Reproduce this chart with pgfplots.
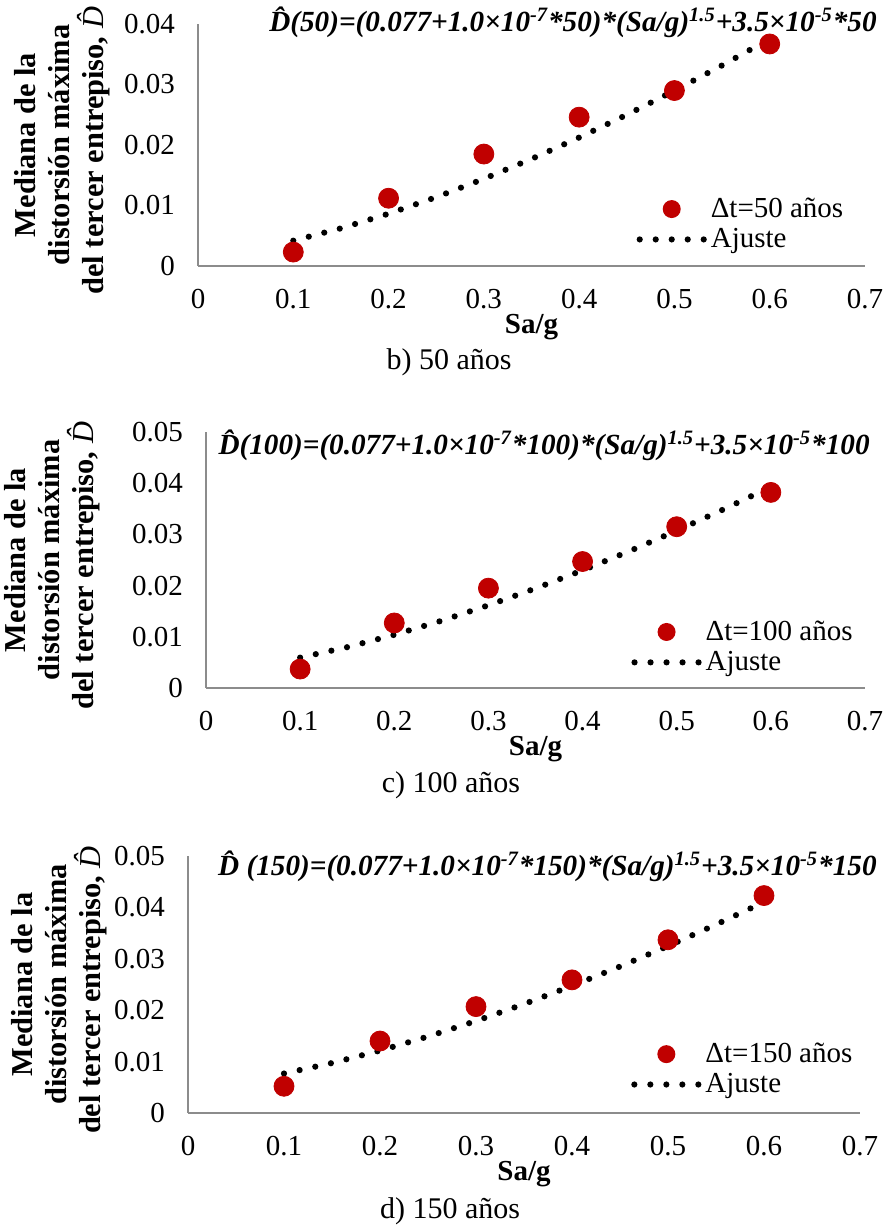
\documentclass[border=0pt]{standalone}
\usepackage{fontspec}
\setmainfont{Liberation Serif}
\usepackage{pgfplots}
\pgfplotsset{compat=1.18}
\definecolor{ptred}{HTML}{C00000}
\definecolor{axgray}{HTML}{8C8C8C}

\pgfplotsset{
  panel/.style={
    scale only axis, anchor=south west,
    xmin=0, xmax=0.7, ymin=0,
    axis x line*=bottom, axis y line*=left,
    axis line style={axgray, line width=1pt},
    tick style={draw=none},
    scaled y ticks=false, scaled x ticks=false,
    xtick={0,0.1,0.2,0.3,0.4,0.5,0.6,0.7},
    xticklabels={0,0.1,0.2,0.3,0.4,0.5,0.6,0.7},
    /pgf/number format/assume math mode=true,
    tick label style={font=\fontsize{14.5}{14.5}\selectfont},
    xticklabel style={yshift=-8pt},
    yticklabel style={xshift=-8pt},
    clip=false,
    reverse legend,
    legend cell align=left,
    legend style={draw=none, fill=none, inner sep=0pt, anchor=north west,
      font=\fontsize{14.5}{14.5}\selectfont, row sep=0pt},
    xlabel={\textbf{Sa/g}},
    x label style={at={(axis description cs:0.5,0)}, anchor=base, yshift=-34pt,
      font=\fontsize{14.5}{14.5}\selectfont},
    ylabel={Mediana de la\\distorsión máxima\\del tercer entrepiso, \textnormal{\textit{\^{D}}}},
    y label style={anchor=center, align=center, font=\fontsize{15.2}{17}\selectfont\bfseries},
  },
  fitline/.style={black, line width=3.1pt, line cap=round, dash pattern=on 0pt off 8pt, no markers,
    legend image code/.code={\draw[##1] (0pt,0pt) -- (32pt,0pt);}},
  pts/.style={only marks, mark=*, mark size=5pt, color=ptred, mark options={draw=ptred, fill=ptred},
    legend image code/.code={\path[draw=none, fill=none] (0pt,0pt) -- (32pt,0pt);
      \path[draw=none, fill=ptred] (16pt,0pt) circle[radius=4.5pt];}},
}

\begin{document}
\begin{tikzpicture}
\useasboundingbox (0pt,0pt) rectangle (442pt,613pt);

% ---------------- Panel b) 50 años
\begin{axis}[panel, at={(99pt,480pt)}, width=333.5pt, height=121pt,
  ymax=0.04, ytick={0,0.01,0.02,0.03,0.04}, yticklabels={0,0.01,0.02,0.03,0.04},
  y label style={at={(axis description cs:-0.204,0.5)}},
  legend style={at={(axis description cs:0.657,0.30)}}]
\addplot[fitline] coordinates {
(0.10,0.004185) (0.15,0.006224) (0.20,0.008638) (0.25,0.011376) (0.30,0.014403)
(0.35,0.017695) (0.40,0.021231) (0.45,0.024995) (0.50,0.028975) (0.55,0.033159) (0.60,0.037539)};
\addlegendentry{Ajuste}
\addplot[pts] coordinates {(0.1,0.0023) (0.2,0.0112) (0.3,0.0185) (0.4,0.0246) (0.5,0.0290) (0.6,0.0367)};
\addlegendentry{Δt=50 años}
\end{axis}

% ---------------- Panel c) 100 años
\begin{axis}[panel, at={(103pt,269pt)}, width=329.5pt, height=128pt,
  ymax=0.05, ytick={0,0.01,0.02,0.03,0.04,0.05}, yticklabels={0,0.01,0.02,0.03,0.04,0.05},
  y label style={at={(axis description cs:-0.234,0.5)}},
  legend style={at={(axis description cs:0.645,0.28)}}]
\addplot[fitline] coordinates {
(0.10,0.005935) (0.15,0.007974) (0.20,0.010388) (0.25,0.013126) (0.30,0.016154)
(0.35,0.019446) (0.40,0.022982) (0.45,0.026747) (0.50,0.030727) (0.55,0.034911) (0.60,0.039291)};
\addlegendentry{Ajuste}
\addplot[pts] coordinates {(0.1,0.0037) (0.2,0.0127) (0.3,0.0195) (0.4,0.0247) (0.5,0.0315) (0.6,0.0382)};
\addlegendentry{Δt=100 años}
\end{axis}

% ---------------- Panel d) 150 años
\begin{axis}[panel, at={(94pt,56.5pt)}, width=336pt, height=128.5pt,
  ymax=0.05, ytick={0,0.01,0.02,0.03,0.04,0.05}, yticklabels={0,0.01,0.02,0.03,0.04,0.05},
  y label style={at={(axis description cs:-0.192,0.5)}},
  legend style={at={(axis description cs:0.659,0.29)}}]
\addplot[fitline] coordinates {
(0.10,0.007685) (0.15,0.009724) (0.20,0.012138) (0.25,0.014877) (0.30,0.017905)
(0.35,0.021197) (0.40,0.024733) (0.45,0.028498) (0.50,0.032479) (0.55,0.036663) (0.60,0.041044)};
\addlegendentry{Ajuste}
\addplot[pts] coordinates {(0.1,0.0052) (0.2,0.0140) (0.3,0.0207) (0.4,0.0259) (0.5,0.0337) (0.6,0.0423)};
\addlegendentry{Δt=150 años}
\end{axis}

% titles (equations)
\node[anchor=base east, inner sep=0pt, font=\fontsize{14.6}{14.6}\selectfont\bfseries\itshape] at (438.5pt,597pt)
  {\^{D}(50)=(0.077+1.0×10\textsuperscript{-7}*50)*(Sa/g)\textsuperscript{1.5}+3.5×10\textsuperscript{-5}*50};
\node[anchor=base east, inner sep=0pt, font=\fontsize{14.6}{14.6}\selectfont\bfseries\itshape] at (435pt,385.5pt)
  {\^{D}(100)=(0.077+1.0×10\textsuperscript{-7}*100)*(Sa/g)\textsuperscript{1.5}+3.5×10\textsuperscript{-5}*100};
\node[anchor=base east, inner sep=0pt, font=\fontsize{14.6}{14.6}\selectfont\bfseries\itshape] at (438.5pt,175pt)
  {\^{D} (150)=(0.077+1.0×10\textsuperscript{-7}*150)*(Sa/g)\textsuperscript{1.5}+3.5×10\textsuperscript{-5}*150};

% captions
\node[anchor=base, inner sep=0pt, font=\fontsize{15}{15}\selectfont] at (224.5pt,428pt) {b) 50 años};
\node[anchor=base, inner sep=0pt, font=\fontsize{15}{15}\selectfont] at (225.5pt,216.5pt) {c) 100 años};
\node[anchor=base, inner sep=0pt, font=\fontsize{15}{15}\selectfont] at (225pt,4pt) {d) 150 años};
\end{tikzpicture}
\end{document}
